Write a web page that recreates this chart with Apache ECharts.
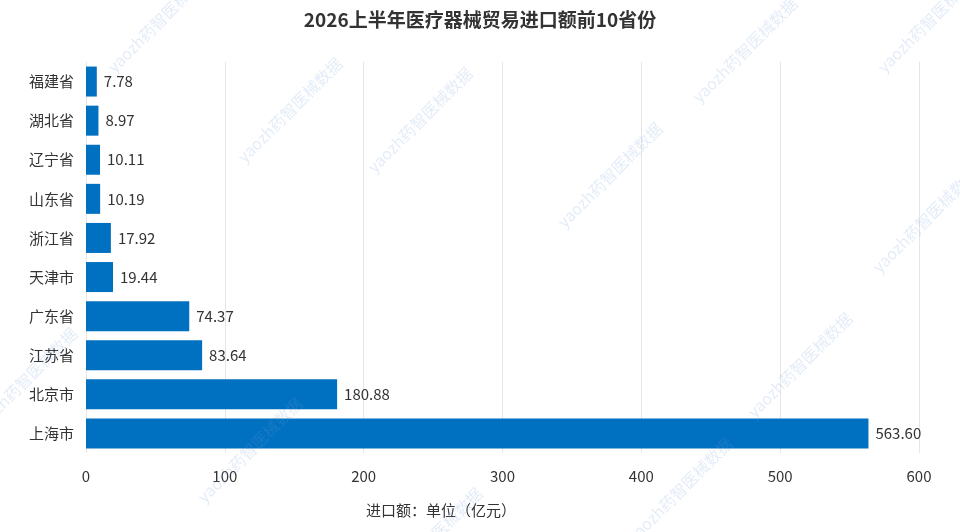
<!DOCTYPE html>
<html><head><meta charset="utf-8">
<script src="https://cdn.jsdelivr.net/npm/echarts@6/dist/echarts.min.js"></script>
<style>html,body{margin:0;padding:0;background:#fff}#c{width:960px;height:532px}</style>
</head><body><div id="c"></div>
<script>
const titleText = '2026上半年医疗器械贸易进口额前10省份';
const categories = ['上海市','北京市','江苏省','广东省','天津市','浙江省','山东省','辽宁省','湖北省','福建省'];
const values = [563.60,180.88,83.64,74.37,19.44,17.92,10.19,10.11,8.97,7.78];
const xTicks = [0,100,200,300,400,500,600];
const axisName = '进口额：单位（亿元）';
const watermark = 'yaozh药智医械数据';
const wmPos = [[290,110],[610,175],[745,50],[925,220],[930,20],[800,365],[25,380],[250,450],[420,120],[680,490],[430,540],[160,20]];

const FONT = '"Noto Sans CJK SC","Noto Sans",sans-serif';
const chart = echarts.init(document.getElementById('c'));
const graphics = wmPos.map(p => ({
  type:'text', x:p[0], y:p[1], rotation:Math.PI/4, z:100, silent:true,
  style:{text:watermark, font:'16px '+FONT, fill:'rgba(120,160,220,0.2)', align:'center', verticalAlign:'middle'}
}));
graphics.push({type:'text', x:441, y:510, style:{text:axisName, font:'15px '+FONT, fill:'#333', align:'center', verticalAlign:'middle'}});
chart.setOption({
  animation:false,
  textStyle:{fontFamily:FONT},
  title:{text:titleText, left:'center', top:5, textStyle:{fontSize:19, fontWeight:'bold', color:'#333', fontFamily:FONT}},
  grid:{left:86, right:41, top:62, bottom:79},
  xAxis:{type:'value', min:xTicks[0], max:xTicks[xTicks.length-1], interval:100,
    axisLine:{show:false}, axisTick:{show:false},
    axisLabel:{fontSize:15, color:'#333', margin:16},
    splitLine:{lineStyle:{color:'#e6e6e6'}}},
  yAxis:{type:'category', data:categories,
    axisLine:{show:false}, axisTick:{show:false},
    axisLabel:{fontSize:15, color:'#333', margin:12}},
  series:[{type:'bar', data:values, barWidth:30,
    itemStyle:{color:'#0070c0'},
    label:{show:true, position:'right', distance:7, fontSize:15, color:'#333',
      formatter:p=>p.value.toFixed(2)}}],
  graphic:graphics
});
</script></body></html>
